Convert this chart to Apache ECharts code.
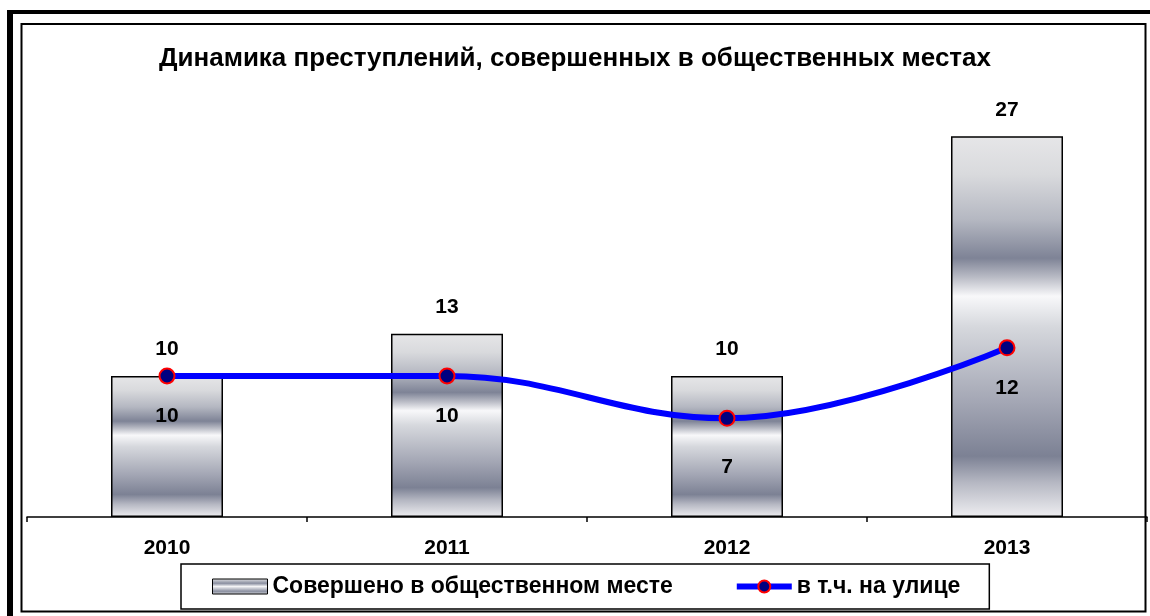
<!DOCTYPE html>
<html>
<head>
<meta charset="utf-8">
<script src="https://cdn.jsdelivr.net/npm/echarts@6/dist/echarts.min.js"></script>
<style>
html,body{margin:0;padding:0;background:#fff;}
#c{width:1150px;height:616px;}
</style>
</head>
<body>
<div id="c"></div>
<script>
var titleText = 'Динамика преступлений, совершенных в общественных местах';
var categories = ['2010', '2011', '2012', '2013'];
var publicPlaceName = 'Совершено в общественном месте';
var publicPlaceValues = [10, 13, 10, 27];
var streetName = 'в т.ч. на улице';
var streetValues = [10, 10, 7, 12];

var FONT = '"Liberation Sans", Arial, sans-serif';
var chart = echarts.init(document.getElementById('c'), null, {renderer: 'canvas'});

var barGradient = new echarts.graphic.LinearGradient(0, 0, 0, 1, [
  {offset: 0, color: '#e6e6e8'},
  {offset: 0.1, color: '#d9dadd'},
  {offset: 0.22, color: '#b4b7c1'},
  {offset: 0.32, color: '#7e8396'},
  {offset: 0.37, color: '#b9bbc5'},
  {offset: 0.42, color: '#f8f8fa'},
  {offset: 0.5, color: '#d6d8dd'},
  {offset: 0.7, color: '#a3a6b4'},
  {offset: 0.84, color: '#7c8194'},
  {offset: 0.91, color: '#b6b8c3'},
  {offset: 1, color: '#eeeef1'}
]);

var labelStyle = {fontFamily: FONT, fontWeight: 'bold', fontSize: 21, color: '#000'};

var streetData = streetValues.map(function (v, i) {
  var item = {value: v};
  if (v === 7) { item.label = {distance: 30}; }
  return item;
});

var option = {
  animation: false,
  backgroundColor: '#fff',
  title: {
    text: titleText,
    left: 'center',
    top: 41,
    textStyle: {fontFamily: FONT, fontWeight: 'bold', fontSize: 26, color: '#000'}
  },
  legend: {
    left: 181,
    top: 564,
    orient: 'horizontal',
    backgroundColor: '#fff',
    borderColor: '#000',
    borderWidth: 1.5,
    borderRadius: 0,
    padding: [11, 29, 11, 31],
    itemGap: 61,
    itemWidth: 55,
    itemHeight: 15,
    textStyle: {fontFamily: FONT, fontWeight: 'bold', fontSize: 23, color: '#000'},
    data: [
      {name: publicPlaceName, icon: 'rect', itemStyle: {color: new echarts.graphic.LinearGradient(0, 0, 0, 1, [
        {offset: 0, color: '#e6e6e8'}, {offset: 0.3, color: '#8a8fa0'}, {offset: 0.5, color: '#f4f4f6'}, {offset: 0.8, color: '#8a8fa0'}, {offset: 1, color: '#dcdde2'}
      ]), borderColor: '#000', borderWidth: 1}},
      {name: streetName, lineStyle: {color: '#0000ff', width: 6}, itemStyle: {color: '#000080', borderColor: '#ff0000', borderWidth: 2}}
    ]
  },
  grid: {left: 27, right: 3, top: 94, bottom: 99, containLabel: false},
  xAxis: {
    type: 'category',
    data: categories,
    boundaryGap: true,
    axisLine: {show: true, lineStyle: {color: '#000', width: 1.5}},
    axisTick: {show: true, inside: false, length: 5, lineStyle: {color: '#000', width: 1.5}},
    axisLabel: {margin: 21, fontFamily: FONT, fontWeight: 'bold', fontSize: 21, color: '#000'},
    splitLine: {show: false}
  },
  yAxis: {
    type: 'value',
    min: 0,
    max: 30,
    show: false,
    splitLine: {show: false}
  },
  series: [
    {
      name: publicPlaceName,
      type: 'bar',
      data: publicPlaceValues,
      barWidth: 112,
      itemStyle: {color: barGradient, borderColor: '#000', borderWidth: 1.5},
      label: Object.assign({show: true, position: 'top', distance: 16}, labelStyle),
      z: 2
    },
    {
      name: streetName,
      type: 'line',
      data: streetData,
      smooth: 0.4,
      symbol: 'circle',
      symbolSize: 15,
      lineStyle: {color: '#0000ff', width: 6},
      itemStyle: {color: '#000080', borderColor: '#ff0000', borderWidth: 2},
      label: Object.assign({show: true, position: 'bottom', distance: 21}, labelStyle),
      z: 3
    }
  ],
  graphic: [
    {type: 'rect', shape: {x: 7, y: 10, width: 1150, height: 4}, style: {fill: '#000'}, z: 100},
    {type: 'rect', shape: {x: 7, y: 10, width: 6, height: 620}, style: {fill: '#000'}, z: 100},
    {type: 'rect', shape: {x: 21.5, y: 24, width: 1124, height: 587.5}, style: {fill: null, stroke: '#000', lineWidth: 2}, z: 100}
  ]
};
chart.setOption(option);
</script>
</body>
</html>
